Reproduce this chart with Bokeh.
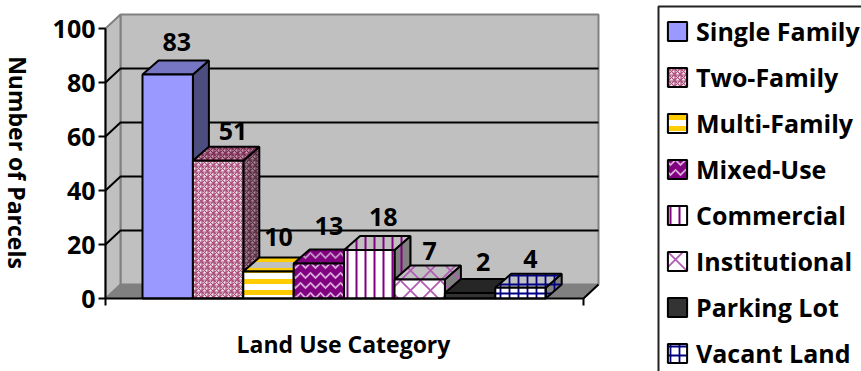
from bokeh.core.properties import value
from bokeh.embed import file_html
from bokeh.models import ColumnDataSource, FixedTicker, Legend, LegendItem, LinearAxis, Range1d
from bokeh.plotting import figure
from bokeh.resources import INLINE

categories = ["Single Family", "Two-Family", "Multi-Family", "Mixed-Use",
              "Commercial", "Institutional", "Parking Lot", "Vacant Land"]
parcels = [83, 51, 10, 13, 18, 7, 2, 4]
y_ticks = [0, 20, 40, 60, 80, 100]

# per-category face fills: front, top, side, hatch pattern, hatch colours, scale, weight
front_fill = ["#9999FF", "#F8ECF2", "#FFFFFF", "#800080", "#FFFFFF", "#FFFFFF", "#333333", "#FFFFFF"]
top_fill = ["#7676C4", "#C8A0B4", "#C0C0C0", "#800080", "#C0C0C0", "#C0C0C0", "#262626", "#C0C0C0"]
side_fill = ["#4D4D80", "#A88C9A", "#808080", "#4D004D", "#808080", "#808080", "#1A1A1A", "#808080"]
pattern = [None, "criss_cross", "horizontal_line", "horizontal_wave", "vertical_line",
           "diagonal_cross", None, "cross"]
hatch_col = ["#000000", "#A84A78", "#FFCC00", "#D8A8D8", "#800080", "#B45CB4", "#000000", "#000080"]
hatch_top = ["#000000", "#7A2850", "#FFCC00", "#C090C0", "#800080", "#B45CB4", "#000000", "#000080"]
hatch_side = ["#000000", "#5A2A40", "#FFCC00", "#C090C0", "#800080", "#B45CB4", "#000000", "#000080"]
hatch_scale = [8, 6, 11, 10, 9, 20, 8, 9]
hatch_weight = [1, 1.2, 5, 1.8, 2, 1.8, 1, 1.8]
label_dx = [9, 15, 10, 10, 14, 10, 13, 10]
label_dy = [18, 16, 21, 23, 19, 15, 17, 15]

# page scale: one x unit is one bar width, y units are parcels
W, H = 861, 371
BAR_PX, X0_PX = 50.4, 142
Y_PX, Y0_PX = 2.7, 298
x_of = lambda px: (px - X0_PX) / BAR_PX
y_of = lambda py: (Y0_PX - py) / Y_PX
DX, DY = 16 / BAR_PX, 14 / Y_PX       # bar depth
WDX, WDY = 15 / BAR_PX, 14 / Y_PX     # wall depth
FONT = "Open Sans"

p = figure(width=W, height=H, output_backend="svg", toolbar_location=None,
           x_axis_location=None, y_axis_location=None, min_border=0,
           x_range=Range1d(x_of(0), x_of(W)), y_range=Range1d(y_of(H), y_of(0)))
p.grid.visible = False
p.outline_line_color = None

# plot box: back wall, side wall and floor
xl, xr = x_of(105), x_of(583)
GREY = "#808080"
p.patch([xl + WDX, xr + WDX, xr + WDX, xl + WDX], [WDY, WDY, 100 + WDY, 100 + WDY],
        fill_color="#C0C0C0", line_color=GREY, line_width=2)
p.patch([xl, xl + WDX, xl + WDX, xl], [0, WDY, 100 + WDY, 100],
        fill_color="#C0C0C0", line_color=GREY, line_width=2)
p.patch([xl, xr, xr + WDX, xl + WDX], [0, 0, WDY, WDY],
        fill_color=GREY, line_color=GREY, line_width=1)
p.line([xr, xr + WDX], [0, WDY], line_color="#000000", line_width=2)

# gridlines run along the back wall and step down the side wall
grid = [t for t in y_ticks if 0 < t < 100]
p.multi_line([[xl, xl + WDX, xr + WDX] for _ in grid],
             [[t, t + WDY, t + WDY] for t in grid], line_color="#000000", line_width=2)

fronts = []
for i, v in enumerate(parcels):
    extra = dict(hatch_pattern=pattern[i], hatch_color=hatch_side[i],
                 hatch_scale=hatch_scale[i], hatch_weight=hatch_weight[i]) if pattern[i] else {}
    p.patch([i + 1, i + 1 + DX, i + 1 + DX, i + 1], [0, DY, v + DY, v],
            fill_color=side_fill[i], line_color="#000000", line_width=2, **extra)
    if pattern[i]:
        extra["hatch_color"] = hatch_top[i]
    p.patch([i, i + 1, i + 1 + DX, i + DX], [v, v, v + DY, v + DY],
            fill_color=top_fill[i], line_color="#000000", line_width=2, **extra)
    if pattern[i]:
        extra["hatch_color"] = hatch_col[i]
    fronts.append(p.quad(left=i, right=i + 1, bottom=0, top=v, fill_color=front_fill[i],
                         line_color="#000000", line_width=2, **extra))

# value labels above each bar
labels = ColumnDataSource(dict(
    x=[i + 0.5 for i in range(len(parcels))],
    y=[v + DY for v in parcels],
    text=[str(v) for v in parcels],
    dx=label_dx,
    dy=[-d for d in label_dy],
))
p.text("x", "y", text="text", x_offset="dx", y_offset="dy", source=labels,
       text_font=value(FONT), text_font_style="bold", text_font_size="25px",
       text_align="center", text_baseline="middle", text_color="#000000")

# value axis on the front edge of the side wall
yaxis = LinearAxis(fixed_location=xl, ticker=FixedTicker(ticks=y_ticks), bounds=(0, 100))
yaxis.axis_line_color = "#000000"
yaxis.axis_line_width = 2
yaxis.major_tick_line_color = "#000000"
yaxis.major_tick_line_width = 2
yaxis.major_tick_in = 0
yaxis.major_tick_out = 7
yaxis.minor_tick_line_color = None
yaxis.major_label_standoff = 3
yaxis.major_label_orientation = "horizontal"
yaxis.major_label_text_font = FONT
yaxis.major_label_text_font_style = "bold"
yaxis.major_label_text_font_size = "25px"
yaxis.major_label_text_color = "#000000"
p.add_layout(yaxis, "left")

# category axis: only the two end ticks are shown
xaxis = LinearAxis(fixed_location=0, ticker=FixedTicker(ticks=[xl, xr]), bounds=(xl, xr))
xaxis.axis_line_color = "#000000"
xaxis.axis_line_width = 2
xaxis.major_tick_line_color = "#000000"
xaxis.major_tick_line_width = 2
xaxis.major_tick_in = 0
xaxis.major_tick_out = 7
xaxis.minor_tick_line_color = None
xaxis.major_label_overrides = {xl: "", xr: ""}
p.add_layout(xaxis, "below")

# axis titles
title_font = dict(text_font=value(FONT), text_font_style="bold", text_font_size="23px",
                  text_align="center", text_baseline="middle", text_color="#000000")
p.text([x_of(343)], [y_of(343)], text=["Land Use Category"], **title_font)
p.text([x_of(17)], [y_of(162)], text=["Number of Parcels"], angle=-1.5708, **title_font)

# legend frame runs off the right and bottom of the page
p.line([x_of(658), x_of(658), x_of(W)], [y_of(H), y_of(6), y_of(6)],
       line_color="#222222", line_width=2)

legend = Legend(items=[LegendItem(label=c, renderers=[r]) for c, r in zip(categories, fronts)],
                location=(665, 1), orientation="vertical", margin=0, padding=8, spacing=12,
                glyph_width=24, glyph_height=24, label_height=24, label_standoff=7,
                label_text_font=FONT, label_text_font_style="bold", label_text_font_size="25px",
                label_text_color="#000000", label_text_baseline="middle",
                border_line_color=None, background_fill_alpha=0)
p.add_layout(legend)

open("out.html", "w").write(file_html(p, INLINE))
